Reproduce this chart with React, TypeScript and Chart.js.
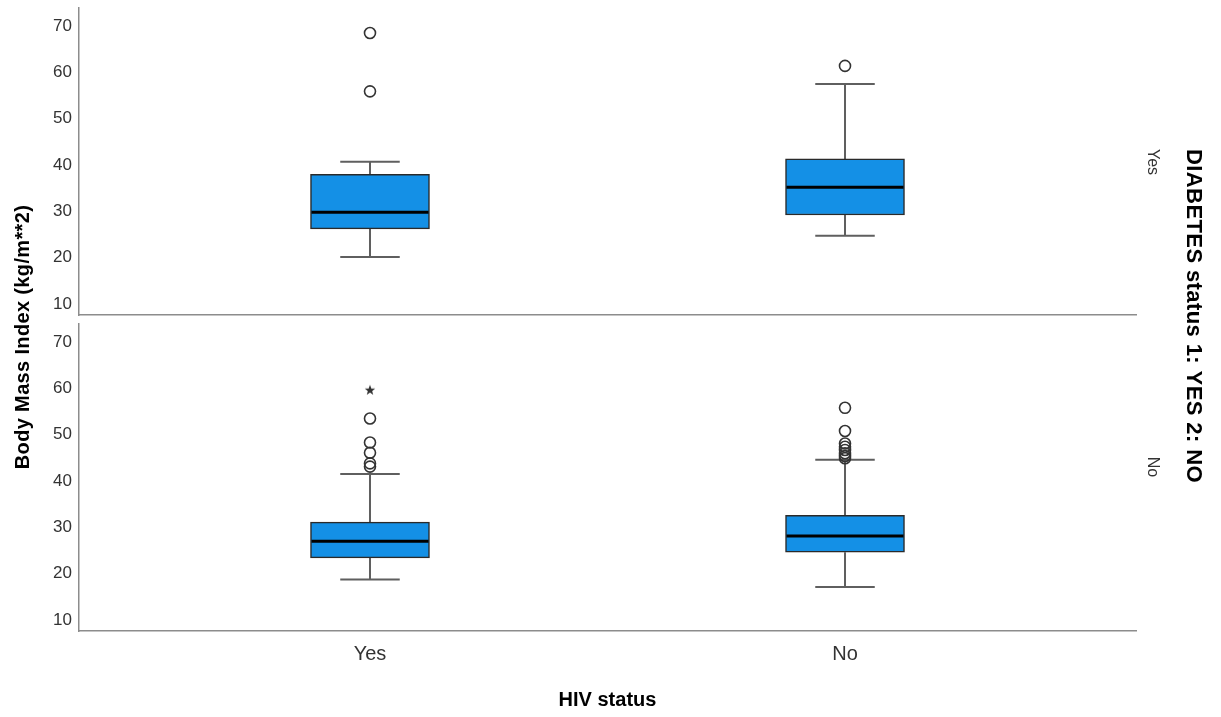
import React, { useEffect, useRef } from 'react';
import { Chart, registerables } from 'chart.js';

Chart.register(...registerables);

// ---------- data ----------
const HIV_STATUS = ['Yes', 'No'];
const DIABETES_STATUS = ['Yes', 'No'];
const Y_TICKS = [10, 20, 30, 40, 50, 60, 70];
const Y_MIN = 7.6;
const Y_MAX = 73.9;

// Panel: DIABETES = Yes  (index 0 = HIV Yes, index 1 = HIV No)
const DM_YES_MIN = [20.1, 24.7];
const DM_YES_Q1 = [26.2, 29.2];
const DM_YES_MEDIAN = [29.8, 35.2];
const DM_YES_Q3 = [38.0, 41.3];
const DM_YES_MAX = [40.7, 57.5];
const DM_YES_OUTLIERS = [[55.9, 68.5], [61.4]];
const DM_YES_EXTREMES: number[][] = [[], []];

// Panel: DIABETES = No
const DM_NO_MIN = [18.7, 17.1];
const DM_NO_Q1 = [23.4, 24.6];
const DM_NO_MEDIAN = [27.0, 28.1];
const DM_NO_Q3 = [31.1, 32.6];
const DM_NO_MAX = [41.5, 44.6];
const DM_NO_OUTLIERS = [
  [43.1, 43.8, 46.1, 48.3, 53.5],
  [44.9, 45.4, 46.0, 46.7, 47.4, 48.1, 50.8, 55.8],
];
const DM_NO_EXTREMES = [[59.7], []];

// ---------- styles ----------
const FONT = "'Liberation Sans', Arial, Helvetica, sans-serif";
const BOX_FILL = '#1490E6';
const BOX_BORDER = '#2a2a2a';
const WHISKER = '#5f5f5f';
const AXIS = '#8c8c8c';
const TEXT = '#333333';

function makeStarImage(): HTMLCanvasElement {
  const c = document.createElement('canvas');
  c.width = 12;
  c.height = 12;
  const g = c.getContext('2d')!;
  g.fillStyle = '#333';
  g.beginPath();
  for (let k = 0; k < 10; k++) {
    const r = k % 2 === 0 ? 5.5 : 2.3;
    const a = -Math.PI / 2 + (k * Math.PI) / 5;
    const px = 6 + r * Math.cos(a);
    const py = 6.5 + r * Math.sin(a);
    if (k === 0) g.moveTo(px, py);
    else g.lineTo(px, py);
  }
  g.closePath();
  g.fill();
  return c;
}

const boxPlugin = {
  id: 'boxWhiskers',
  beforeDatasetsDraw(chart: any) {
    const ds = chart.data.datasets[0];
    const st = ds.boxStats;
    if (!st) return;
    const meta = chart.getDatasetMeta(0);
    const ys = chart.scales.y;
    const ctx = chart.ctx;
    ctx.save();
    ctx.strokeStyle = WHISKER;
    ctx.lineWidth = 2;
    meta.data.forEach((bar: any, i: number) => {
      const cx = bar.x;
      const capHalf = bar.width / 4;
      const yMax = ys.getPixelForValue(st.max[i]);
      const yQ3 = ys.getPixelForValue(st.q3[i]);
      const yQ1 = ys.getPixelForValue(st.q1[i]);
      const yMin = ys.getPixelForValue(st.min[i]);
      ctx.beginPath();
      ctx.moveTo(cx, yMax);
      ctx.lineTo(cx, yQ3);
      ctx.moveTo(cx, yQ1);
      ctx.lineTo(cx, yMin);
      ctx.moveTo(cx - capHalf, yMax);
      ctx.lineTo(cx + capHalf, yMax);
      ctx.moveTo(cx - capHalf, yMin);
      ctx.lineTo(cx + capHalf, yMin);
      ctx.stroke();
    });
    ctx.restore();
  },
  afterDatasetsDraw(chart: any) {
    const ds = chart.data.datasets[0];
    const st = ds.boxStats;
    if (!st) return;
    const meta = chart.getDatasetMeta(0);
    const ys = chart.scales.y;
    const ctx = chart.ctx;
    ctx.save();
    ctx.strokeStyle = '#000';
    ctx.lineWidth = 3;
    meta.data.forEach((bar: any, i: number) => {
      const ym = ys.getPixelForValue(st.median[i]);
      ctx.beginPath();
      ctx.moveTo(bar.x - bar.width / 2 + 1, ym);
      ctx.lineTo(bar.x + bar.width / 2 - 1, ym);
      ctx.stroke();
    });
    ctx.restore();
  },
};

const textPlugin = {
  id: 'panelTexts',
  afterDraw(chart: any) {
    const o = chart.options.plugins.panelTexts;
    if (!o || !o.enabled) return;
    const ctx = chart.ctx;
    ctx.save();
    ctx.fillStyle = '#000';
    ctx.textAlign = 'center';
    ctx.textBaseline = 'middle';
    // y title
    ctx.save();
    ctx.translate(o.yTitleX, o.yTitleY);
    ctx.rotate(-Math.PI / 2);
    ctx.font = `bold 20px ${FONT}`;
    (ctx as any).letterSpacing = '0.35px';
    ctx.fillText(o.yTitle, 0, 0);
    ctx.restore();
    // right panel labels
    o.panelLabels.forEach((lab: string, i: number) => {
      ctx.save();
      ctx.translate(o.panelLabelX, o.panelLabelY[i]);
      ctx.rotate(Math.PI / 2);
      ctx.font = `16px ${FONT}`;
      ctx.fillStyle = TEXT;
      ctx.fillText(lab, 0, 0);
      ctx.restore();
    });
    // right title
    ctx.save();
    ctx.translate(o.rTitleX, o.rTitleY);
    ctx.rotate(Math.PI / 2);
    ctx.font = `bold 22px ${FONT}`;
    (ctx as any).letterSpacing = '0.4px';
    ctx.fillText(o.rTitle, 0, 0);
    ctx.restore();
    ctx.restore();
  },
};

function buildConfig(
  stats: { min: number[]; q1: number[]; median: number[]; q3: number[]; max: number[] },
  outliers: number[][],
  extremes: number[][],
  bottom: boolean,
  star: HTMLCanvasElement
): any {
  const boxData = HIV_STATUS.map((_, i) => ({ x: i, y: [stats.q1[i], stats.q3[i]] }));
  const outData = outliers.flatMap((arr, i) => arr.map((v) => ({ x: i, y: v })));
  const extData = extremes.flatMap((arr, i) => arr.map((v) => ({ x: i, y: v })));
  return {
    type: 'bar',
    data: {
      datasets: [
        {
          type: 'bar',
          data: boxData,
          boxStats: stats,
          backgroundColor: BOX_FILL,
          borderColor: BOX_BORDER,
          borderWidth: 1.5,
          borderSkipped: false,
          barThickness: 119,
        },
        {
          type: 'scatter',
          data: outData,
          pointStyle: 'circle',
          pointRadius: 5.5,
          pointBorderWidth: 1.6,
          pointBorderColor: '#333',
          pointBackgroundColor: 'rgba(255,255,255,0)',
        },
        {
          type: 'scatter',
          data: extData,
          pointStyle: star,
          pointRadius: 6,
        },
      ],
    },
    options: {
      responsive: false,
      animation: false,
      devicePixelRatio: 1,
      events: [],
      layout: {
        padding: bottom
          ? { top: 324, left: 0, right: 85, bottom: 0 }
          : { top: 8, left: 0, right: 85, bottom: 402 },
      },
      plugins: {
        legend: { display: false },
        tooltip: { enabled: false },
        panelTexts: {
          enabled: bottom,
          yTitle: 'Body Mass Index (kg/m**2)',
          yTitleX: 23,
          yTitleY: 337,
          panelLabels: DIABETES_STATUS,
          panelLabelX: 1152,
          panelLabelY: [162, 467],
          rTitle: 'DIABETES status 1: YES 2: NO',
          rTitleX: 1193,
          rTitleY: 316,
        },
      },
      scales: {
        x: {
          type: 'linear',
          min: -0.6126,
          max: 1.6126,
          offset: false,
          bounds: 'data',
          grace: 0,
          grid: { display: false, drawTicks: false, offset: false },
          border: { display: true, color: AXIS, width: 1.5 },
          afterDataLimits: (s: any) => {
            s.min = -0.6126;
            s.max = 1.6126;
          },
          afterBuildTicks: (s: any) => {
            s.ticks = HIV_STATUS.map((_, i) => ({ value: i }));
          },
          afterFit: (s: any) => {
            s.height = bottom ? 86 : 0;
            s.paddingLeft = 0;
            s.paddingRight = 0;
            s.paddingTop = 0;
            s.paddingBottom = 0;
          },
          ticks: {
            display: bottom,
            autoSkip: false,
            maxRotation: 0,
            padding: 11,
            color: TEXT,
            font: { family: FONT, size: 20 },
            callback: (v: number) => HIV_STATUS[v] ?? '',
          },
          title: {
            display: bottom,
            text: 'HIV status',
            color: '#000',
            font: { family: FONT, size: 20, weight: 'bold' },
            padding: { top: 0, bottom: 5 },
          },
        },
        y: {
          type: 'linear',
          min: Y_MIN,
          max: Y_MAX,
          grid: { display: false, drawTicks: false },
          border: { display: true, color: AXIS, width: 1.5 },
          afterBuildTicks: (s: any) => {
            s.ticks = Y_TICKS.map((v) => ({ value: v }));
          },
          afterFit: (s: any) => {
            s.width = 79;
            s.paddingTop = 0;
            s.paddingBottom = 0;
            s.paddingLeft = 0;
            s.paddingRight = 0;
          },
          ticks: {
            padding: 7,
            color: TEXT,
            font: { family: FONT, size: 17 },
            callback: (v: number) => String(v),
          },
        },
      },
    },
    plugins: [boxPlugin, textPlugin],
  };
}

export default function App() {
  const topRef = useRef<HTMLCanvasElement>(null);
  const botRef = useRef<HTMLCanvasElement>(null);

  useEffect(() => {
    const star = makeStarImage();
    const top = new Chart(
      topRef.current!,
      buildConfig(
        { min: DM_YES_MIN, q1: DM_YES_Q1, median: DM_YES_MEDIAN, q3: DM_YES_Q3, max: DM_YES_MAX },
        DM_YES_OUTLIERS,
        DM_YES_EXTREMES,
        false,
        star
      )
    );
    const bot = new Chart(
      botRef.current!,
      buildConfig(
        { min: DM_NO_MIN, q1: DM_NO_Q1, median: DM_NO_MEDIAN, q3: DM_NO_Q3, max: DM_NO_MAX },
        DM_NO_OUTLIERS,
        DM_NO_EXTREMES,
        true,
        star
      )
    );
    return () => {
      top.destroy();
      bot.destroy();
    };
  }, []);

  const canvasStyle: React.CSSProperties = {
    position: 'absolute',
    left: 0,
    top: 0,
    width: 1221,
    height: 717,
    display: 'block',
  };

  return (
    <div
      style={{
        position: 'absolute',
        left: 0,
        top: 0,
        width: 1221,
        height: 717,
        overflow: 'hidden',
        background: '#fff',
      }}
    >
      <canvas ref={topRef} width={1221} height={717} style={canvasStyle} />
      <canvas ref={botRef} width={1221} height={717} style={canvasStyle} />
    </div>
  );
}
